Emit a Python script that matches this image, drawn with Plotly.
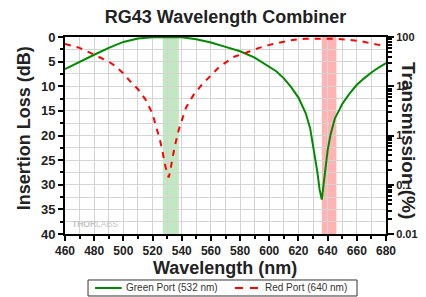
import plotly.graph_objects as go

# Green port insertion loss (dB)
green_wl = [460, 470, 480, 490, 500, 510, 520, 530, 540, 550, 560, 570, 580, 590, 600, 605, 610, 615, 620, 625, 628, 631, 633, 634.5, 636, 637, 638, 640, 642, 645, 648, 650, 655, 660, 665, 670, 675, 680]
green_db = [6.5, 5.0, 3.6, 2.2, 1.0, 0.3, 0.03, 0.0, 0.05, 0.45, 1.1, 2.0, 2.9, 4.2, 6.0, 7.0, 8.4, 10.2, 12.3, 15.5, 18.5, 23.5, 27.5, 31.0, 33.0, 30.5, 27.8, 23.0, 19.8, 16.5, 14.8, 13.6, 11.5, 9.7, 8.4, 7.2, 6.2, 5.3]

# Red port insertion loss (dB)
red_wl = [460, 465, 470, 475, 480, 485, 490, 495, 500, 505, 510, 515, 520, 523, 525, 527, 529, 531, 532, 533, 535, 538, 540, 543, 548, 554, 560, 565, 570, 576, 585, 592, 600, 607, 616, 625, 635, 645, 655, 662, 668, 675, 680]
red_db = [1.4, 1.8, 2.2, 2.9, 3.6, 4.3, 5.0, 6.0, 7.4, 9.1, 10.6, 12.6, 15.6, 18.8, 20.8, 23.5, 26.5, 28.5, 27.5, 25.7, 22.5, 18.8, 17.0, 14.3, 11.8, 9.6, 7.8, 6.3, 5.2, 4.0, 3.1, 2.3, 1.6, 1.1, 0.6, 0.35, 0.3, 0.35, 0.6, 0.8, 1.2, 1.6, 1.7]

series_names = ["Green Port (532 nm)", "Red Port (640 nm)"]
series_colors = ["#008a00", "#ff0000"]

green_band = [527, 538]
red_band = [636, 646]

x_ticks = list(range(460, 681, 20))
left_ticks = list(range(0, 41, 5))
right_ticks = [0.01, 0.1, 1, 10, 100]
right_labels = ["0.01", "0.1", "1", "10", "100"]
right_minor = [m * 10 ** e for e in range(-2, 2) for m in range(2, 10)]

FONT = "Liberation Sans, Arial, sans-serif"

fig = go.Figure()
fig.add_trace(go.Scatter(x=green_wl, y=green_db, mode="lines", name=series_names[0],
                         line=dict(color=series_colors[0], width=2), showlegend=False))
fig.add_trace(go.Scatter(x=red_wl, y=red_db, mode="lines", name=series_names[1],
                         line=dict(color=series_colors[1], width=2, dash="6px,6px"), showlegend=False))
# invisible trace to activate right axis
fig.add_trace(go.Scatter(x=green_wl, y=[100 * 10 ** (-d / 10) for d in green_db], yaxis="y2",
                         mode="lines", line=dict(width=0), opacity=0, showlegend=False, hoverinfo="skip"))

fig.add_shape(type="rect", xref="x", yref="paper", x0=green_band[0], x1=green_band[1], y0=0, y1=1,
              fillcolor="#c2e8c2", line=dict(width=0), layer="below")
fig.add_shape(type="rect", xref="x", yref="paper", x0=red_band[0], x1=red_band[1], y0=0, y1=1,
              fillcolor="#ffb3b3", line=dict(width=0), layer="below")

# custom legend box below the plot (paper coords: x=(px-65)/321, y=(234-py)/197)
fig.add_shape(type="rect", xref="paper", yref="paper", x0=0.0717, x1=0.9097, y0=-0.3147, y1=-0.2335,
              fillcolor="white", line=dict(color="#333", width=1), layer="above")
fig.add_shape(type="line", xref="paper", yref="paper", x0=0.0935, x1=0.1766, y0=-0.274, y1=-0.274,
              line=dict(color=series_colors[0], width=2), layer="above")
fig.add_shape(type="line", xref="paper", yref="paper", x0=0.5296, x1=0.6023, y0=-0.274, y1=-0.274,
              line=dict(color=series_colors[1], width=2, dash="8px,7px"), layer="above")
fig.add_annotation(text=series_names[0], xref="paper", yref="paper", x=0.1838, y=-0.274,
                   xanchor="left", yanchor="middle", showarrow=False,
                   font=dict(size=10, color="#333"))
fig.add_annotation(text=series_names[1], xref="paper", yref="paper", x=0.6178, y=-0.274,
                   xanchor="left", yanchor="middle", showarrow=False,
                   font=dict(size=10, color="#333"))

fig.update_layout(
    width=426, height=297,
    margin=dict(l=65, r=40, t=37, b=63, autoexpand=False),
    paper_bgcolor="white", plot_bgcolor="white",
    font=dict(family=FONT, color="#222"),
    showlegend=False,
    title=dict(text="<b>RG43 Wavelength Combiner</b>", x=0.5, xref="paper", xanchor="center",
               y=1 - 17 / 297, yref="container", yanchor="middle",
               font=dict(size=18, color="#222")),
    xaxis=dict(range=[460, 680], tickvals=x_ticks, ticks="outside", ticklen=5, tickwidth=1.5,
               tickcolor="black", showline=True, linecolor="black", linewidth=2, mirror=True,
               showgrid=True, gridcolor="#d4d4d4", gridwidth=1,
               minor=dict(dtick=10, tick0=460, ticks="outside", ticklen=3, tickcolor="black",
                          showgrid=True, gridcolor="#d4d4d4"),
               tickfont=dict(size=12, color="#222", weight="bold"), zeroline=False),
    yaxis=dict(range=[40, 0], tickvals=left_ticks, ticks="outside", ticklen=5, tickwidth=1.5,
               tickcolor="black", showline=True, linecolor="black", linewidth=2,
               showgrid=True, gridcolor="#d4d4d4", gridwidth=1,
               minor=dict(dtick=2.5, tick0=0, ticks="outside", ticklen=3, tickcolor="black",
                          showgrid=True, gridcolor="#d4d4d4"),
               tickfont=dict(size=13, color="#222", weight="bold"), zeroline=False),
    yaxis2=dict(type="log", range=[-2, 2], overlaying="y", side="right", tickvals=right_ticks,
                ticktext=right_labels, ticks="outside", ticklen=6, tickwidth=1.5, tickcolor="black",
                showline=True, linecolor="black", linewidth=2, showgrid=False, zeroline=False,
                minor=dict(tickvals=right_minor, ticks="outside", ticklen=4, tickcolor="black",
                           showgrid=False),
                tickfont=dict(size=11, color="#222", weight="bold")),
)

fig.add_annotation(text="Insertion Loss (dB)", xref="paper", yref="paper", x=-0.128, y=0.536,
                   xanchor="center", yanchor="middle",
                   textangle=-90, showarrow=False, font=dict(size=18, color="#222", weight="bold"))
fig.add_annotation(text="Transmission (%)", xref="paper", yref="paper", x=1.0717, y=0.477,
                   xanchor="center", yanchor="middle",
                   textangle=90, showarrow=False, font=dict(size=19, color="#222", weight="bold"))
fig.add_annotation(text="<b>Wavelength (nm)</b>", xref="paper", yref="paper", x=0.498, y=-0.1726,
                   xanchor="center", yanchor="middle",
                   showarrow=False, font=dict(size=18, color="#222"))
fig.add_annotation(text="<b>THOR</b>LABS", xref="paper", yref="paper", x=0.016, y=0.05,
                   xanchor="left", yanchor="middle", showarrow=False, font=dict(size=8.5, color="#c4c4c4"))

fig.write_html("out.html", config={"displayModeBar": False},
               post_script="document.body.style.margin='0';document.body.style.padding='0';")
